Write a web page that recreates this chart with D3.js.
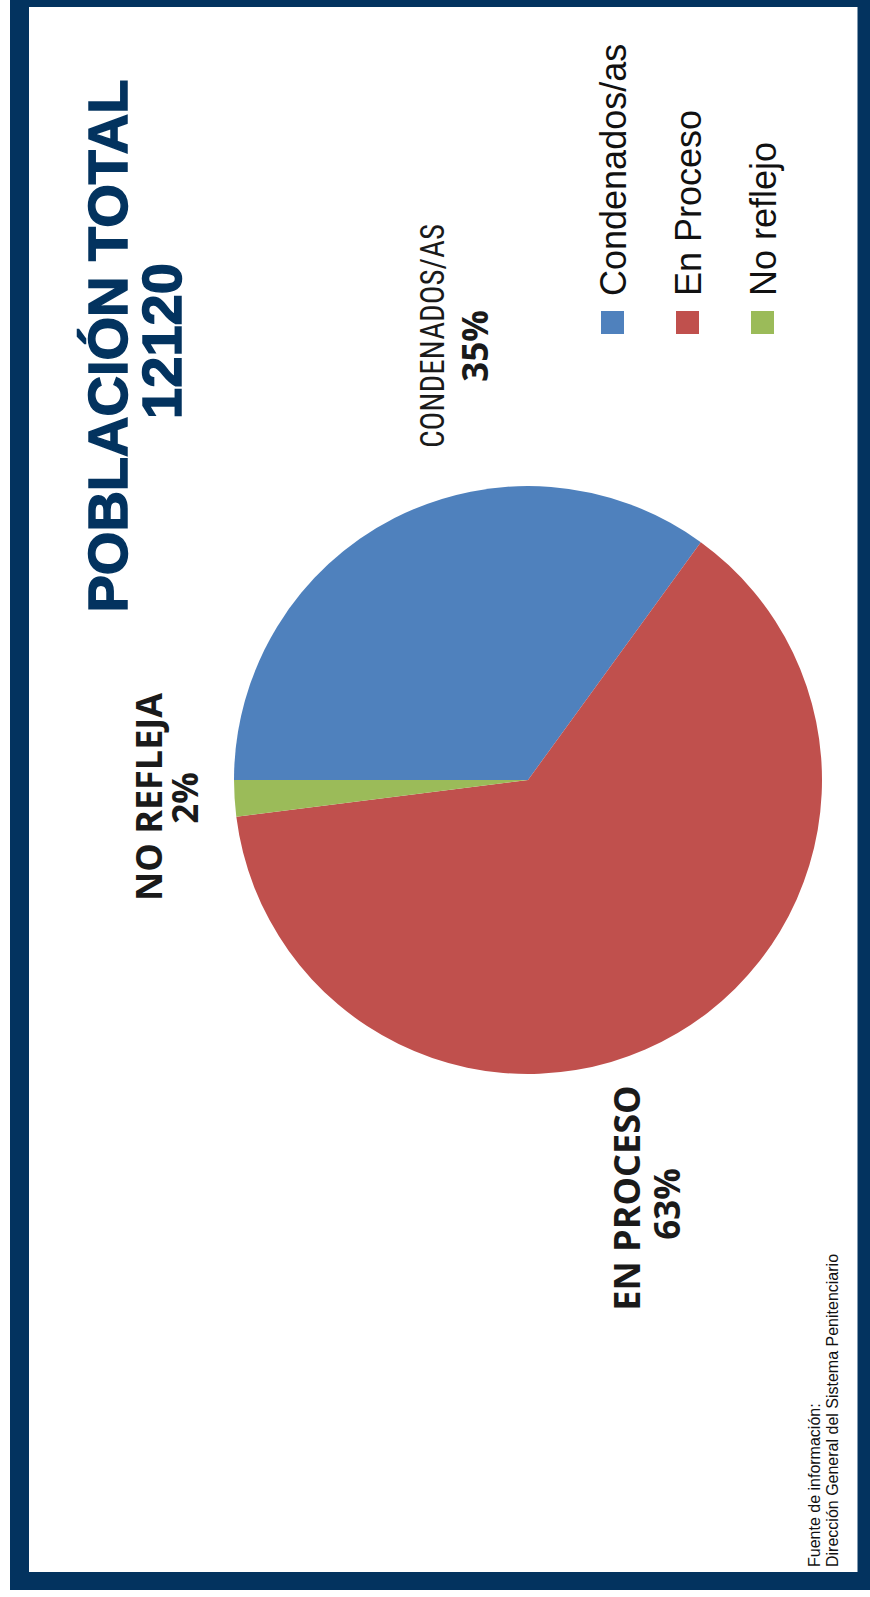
<!DOCTYPE html>
<html>
<head>
<meta charset="utf-8">
<script src="https://cdn.jsdelivr.net/npm/d3@7"></script>
<style>
  html, body { margin: 0; padding: 0; background: #ffffff; }
  svg { display: block; }
</style>
</head>
<body>
<script>
// Población penitenciaria por situación jurídica
const categories = ["Condenados/as", "En Proceso", "No reflejo"];
const labelNames = ["CONDENADOS/AS", "EN PROCESO", "NO REFLEJA"];
const percentages = [35, 63, 2];
const colors = ["#4F81BD", "#C0504D", "#9BBB59"];
const titleLines = ["POBLACIÓN TOTAL", "12120"];
const sourceLines = ["Fuente de información:", "Dirección General del Sistema Penitenciario"];

const W = 870, H = 1597;
const navy = "#03335F";

const svg = d3.select("body").append("svg")
  .attr("width", W).attr("height", H);

// Frame
svg.append("rect").attr("x", 10).attr("y", 0).attr("width", W - 10).attr("height", 1590).attr("fill", navy);
svg.append("rect").attr("x", 29).attr("y", 7).attr("width", 857.5 - 29).attr("height", 1572 - 7).attr("fill", "#ffffff");

// The chart is laid out landscape (width H, height W) and turned a quarter turn
const g = svg.append("g").attr("transform", `translate(0,${H}) rotate(-90)`);

// Title
const title = g.append("g").attr("fill", navy)
  .attr("font-family", "'Liberation Sans', Arial, sans-serif").attr("font-weight", "bold")
  .attr("text-anchor", "middle").attr("font-size", 56)
  .attr("stroke", navy).attr("stroke-width", 1.5);
title.append("text").attr("x", 1251).attr("y", 127).text(titleLines[0]);
title.append("text").attr("x", 1256).attr("y", 181).text(titleLines[1]);

// Pie
const cx = 817, cy = 528, radius = 294;
const pie = d3.pie().sort(null).value(d => d).startAngle(0).endAngle(2 * Math.PI);
const arc = d3.arc().innerRadius(0).outerRadius(radius);
const color = d3.scaleOrdinal().domain(categories).range(colors);

const arcs = pie(percentages);
g.append("g").attr("transform", `translate(${cx},${cy})`)
  .selectAll("path").data(arcs).join("path")
  .attr("d", arc)
  .attr("fill", (d, i) => color(categories[i]));

// Data labels (name above, percentage below)
const labelLayout = [
  { x: 1261, yName: 444, yPct: 488, pctX: 1251 },
  { x: 399,  yName: 640, yPct: 680, pctX: 393 },
  { x: 800,  yName: 162, yPct: 198, pctX: 799 }
];
const labels = g.append("g").attr("fill", "#1a1a1a").attr("text-anchor", "middle");
arcs.forEach((d, i) => {
  const p = labelLayout[i];
  const name = labels.append("text").attr("x", p.x).attr("y", p.yName).text(labelNames[i]);
  if (i === 0) {
    name.attr("font-family", "'Liberation Sans Narrow', 'Roboto Condensed', 'Liberation Sans', sans-serif")
      .attr("font-size", 34).attr("textLength", 224).attr("lengthAdjust", "spacingAndGlyphs");
  } else {
    name.attr("font-family", "'Open Sans', sans-serif").attr("font-weight", "bold")
      .attr("font-size", 36);
  }
  labels.append("text").attr("x", p.pctX).attr("y", p.yPct)
    .attr("font-family", "'Open Sans', sans-serif").attr("font-weight", "bold")
    .attr("font-size", 35)
    .text(d3.format(".0f")(d.data) + "%");
});

// Legend
const legendY = d3.scalePoint().domain(categories).range([612.5, 762.5]);
const legend = g.append("g");
categories.forEach((c, i) => {
  legend.append("rect")
    .attr("x", 1263).attr("y", legendY(c) - 11.5)
    .attr("width", 23).attr("height", 23)
    .attr("fill", color(c));
  legend.append("text")
    .attr("x", 1301).attr("y", legendY(c) + 13.5)
    .attr("font-family", "'Liberation Sans', Arial, sans-serif")
    .attr("font-size", 36).attr("fill", "#111")
    .text(c);
});

// Source note
const src = g.append("g").attr("font-family", "'Liberation Sans', Arial, sans-serif")
  .attr("font-size", 16).attr("fill", "#111");
sourceLines.forEach((t, i) => {
  src.append("text").attr("x", 30).attr("y", 820 + i * 17.5).text(t);
});
</script>
</body>
</html>
